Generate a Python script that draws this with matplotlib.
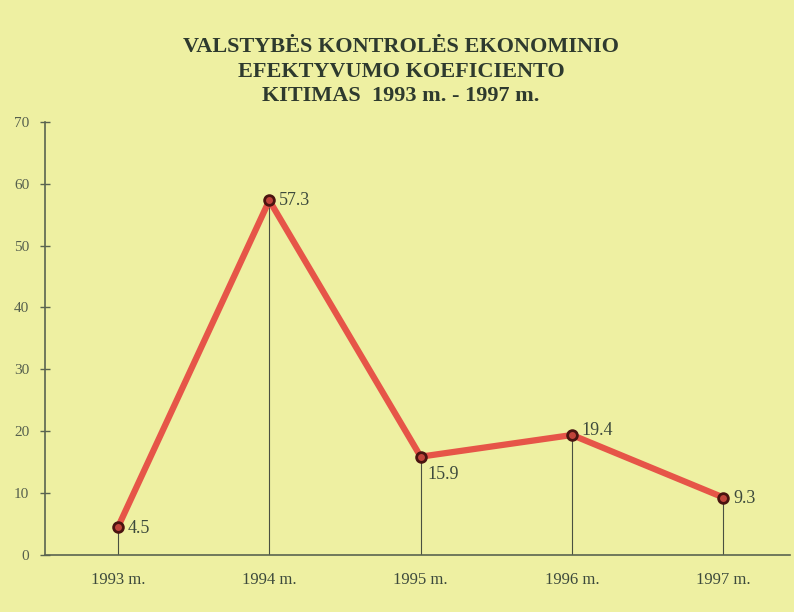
import matplotlib.pyplot as plt

# data
years = ['1993 m.', '1994 m.', '1995 m.', '1996 m.', '1997 m.']
values = [4.5, 57.3, 15.9, 19.4, 9.3]
y_ticks = [0, 10, 20, 30, 40, 50, 60, 70]
title = 'VALSTYBĖS KONTROLĖS EKONOMINIO\nEFEKTYVUMO KOEFICIENTO\nKITIMAS  1993 m. - 1997 m.'

bg = '#eef0a2'
txt = '#3d4a3c'
plt.rcParams['font.family'] = ['Liberation Serif', 'DejaVu Serif']

fig = plt.figure(figsize=(7.94, 6.12), dpi=100, facecolor=bg)
ax = fig.add_axes([0.057, 0.093, 0.938, 0.708])
ax.set_facecolor(bg)

x = list(range(len(years)))

# drop lines from points to the axis
ax.vlines(x, 0, values, color='#4a5040', lw=0.8, zorder=2)

ax.plot(x, values, color='#e65548', lw=4.5, solid_capstyle='round', zorder=3)
ax.plot(x, values, 'o', ms=7, mfc='#c0443a', mec='#4a1410', mew=2, zorder=4)

# value labels
offsets = [(7, -1, 'left', 'center'), (7, 0, 'left', 'center'),
           (5, -7, 'left', 'top'), (7, 3, 'left', 'center'),
           (7, -1, 'left', 'center')]
for xi, v, (dx, dy, ha, va) in zip(x, values, offsets):
    ax.annotate(f'{v}', (xi, v), xytext=(dx, dy), textcoords='offset points',
                ha=ha, va=va, fontsize=13, color=txt)

ax.set_xlim(-0.48, 4.44)
ax.set_ylim(0, 70)
ax.set_yticks(y_ticks)
ax.set_xticks(x)
ax.set_xticklabels(years)

for s in ['top', 'right']:
    ax.spines[s].set_visible(False)
for s in ['left', 'bottom']:
    ax.spines[s].set_color('#5a6450')
    ax.spines[s].set_linewidth(1.2)

ax.tick_params(axis='y', direction='inout', length=7, width=1, color='#5a6450',
               labelsize=11, labelcolor='#56604e', pad=8)
ax.tick_params(axis='x', length=0, labelsize=12, labelcolor=txt, pad=12)

fig.text(0.505, 0.883, title, ha='center', va='center', fontsize=16,
         fontweight='bold', color='#2e3a2e', linespacing=1.3)

fig.savefig('out.png', dpi=100, facecolor=bg)
